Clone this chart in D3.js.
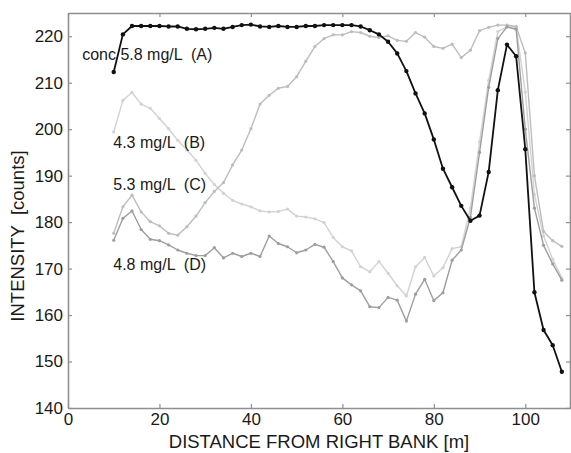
<!DOCTYPE html>
<html>
<head>
<meta charset="utf-8">
<script src="https://cdn.jsdelivr.net/npm/d3@7"></script>
<style>
  body { margin: 0; background: #fff; }
  text { font-family: "Liberation Sans", Arial, sans-serif; }
</style>
</head>
<body>
<div id="chart"></div>
<script>
// intensity across the river section, four concentrations

var distance = [10, 12, 14, 16, 18, 20, 22, 24, 26, 28, 30, 32, 34, 36, 38, 40, 42, 44, 46, 48,
  50, 52, 54, 56, 58, 60, 62, 64, 66, 68, 70, 72, 74, 76, 78, 80, 82, 84, 86, 88,
  90, 92, 94, 96, 98, 100, 102, 104, 106, 108];

var concA = [212.3, 220.4, 222.2, 222.2, 222.2, 222.2, 222.1, 222.1, 221.6, 221.5,
  221.6, 221.8, 221.6, 222.0, 222.4, 222.5, 222.1, 222.0, 222.2, 222.0,
  222.0, 222.2, 222.2, 222.4, 222.4, 222.4, 222.4, 222.1, 221.3, 220.4,
  218.8, 216.3, 212.5, 207.7, 203.4, 197.8, 191.5, 187.5, 183.5, 180.3,
  181.4, 190.8, 208.4, 218.2, 215.7, 195.7, 164.9, 156.8, 153.5, 147.8];

var concB = [199.4, 206.2, 207.9, 205.4, 204.5, 202.3, 200.1, 197.6, 195.5, 193.3,
  190.5, 188.1, 186.2, 184.7, 183.9, 183.3, 182.4, 182.2, 182.3, 182.8,
  181.3, 181.1, 180.7, 179.9, 176.7, 174.7, 173.8, 170.4, 169.3, 171.5,
  169.0, 166.3, 164.1, 170.4, 172.4, 168.4, 170.2, 174.3, 174.7, 183.0,
  197.3, 210.5, 221.0, 222.0, 222.0, 208.0, 186.0, 177.0, 172.0, 168.0];

var concC = [177.6, 183.3, 185.8, 182.2, 180.1, 179.2, 177.6, 177.2, 179.0, 181.3,
  184.2, 186.6, 188.5, 192.3, 195.5, 200.1, 205.4, 207.3, 208.8, 209.2,
  211.3, 214.6, 217.8, 219.5, 220.3, 220.3, 221.0, 220.8, 220.0, 219.7,
  220.1, 219.1, 218.9, 220.8, 219.8, 217.8, 217.4, 218.3, 215.4, 217.0,
  221.2, 221.9, 222.4, 222.4, 222.1, 216.4, 190.0, 178.0, 176.0, 174.8];

var concD = [176.1, 180.8, 182.4, 178.4, 176.3, 176.0, 175.1, 174.0, 173.3, 172.8,
  172.8, 174.5, 172.3, 173.3, 172.6, 173.3, 172.6, 177.0, 175.4, 174.7,
  173.4, 174.0, 175.2, 174.6, 171.5, 168.0, 166.5, 165.2, 161.8, 161.6,
  163.8, 163.2, 158.7, 164.5, 167.7, 163.1, 164.8, 171.8, 174.0, 181.0,
  195.0, 209.0, 219.5, 222.0, 221.5, 200.0, 183.0, 175.0, 171.0, 167.5];

var xTicks = [0, 20, 40, 60, 80, 100];
var yTicks = [140, 150, 160, 170, 180, 190, 200, 210, 220];

var labels = [
  { text: "conc 5.8 mg/L  (A)", x: 3.1, y: 214.9 },
  { text: "4.3 mg/L  (B)", x: 9.9, y: 195.9 },
  { text: "5.3 mg/L  (C)", x: 9.9, y: 186.9 },
  { text: "4.8 mg/L  (D)", x: 9.9, y: 169.7 }
];

var svgWidth = 571;
var svgHeight = 453;

var margin = { top: 13, right: 0, bottom: 45, left: 68 };

var width = svgWidth - margin.left - margin.right;
var height = svgHeight - margin.top - margin.bottom;

var svg = d3.select("#chart")
  .append("svg")
  .attr("width", svgWidth)
  .attr("height", svgHeight);

var chartGroup = svg.append("g")
  .attr("transform", `translate(${margin.left}, ${margin.top})`);

var xScale = d3.scaleLinear().domain([0, 110]).range([0, width]);
var yScale = d3.scaleLinear().domain([140, 225]).range([height, 0]);

// axes, ticks pointing inward on all four sides
var axisColor = "#8f8f8f";

function styleAxis(g) {
  g.select(".domain").attr("stroke", axisColor).attr("stroke-width", 1.6);
  g.selectAll(".tick line").attr("stroke", axisColor).attr("stroke-width", 1.2);
  g.selectAll(".tick text").attr("fill", "#1a1a1a").style("font-size", "17px");
}

chartGroup.append("g")
  .attr("transform", `translate(0, ${height})`)
  .call(d3.axisBottom(xScale).tickValues(xTicks).tickSize(-4).tickSizeOuter(0).tickPadding(5))
  .call(styleAxis);

chartGroup.append("g")
  .call(d3.axisTop(xScale).tickValues(xTicks).tickSize(-4).tickSizeOuter(0).tickFormat(""))
  .call(styleAxis);

chartGroup.append("g")
  .call(d3.axisLeft(yScale).tickValues(yTicks).tickSize(-4).tickSizeOuter(0).tickPadding(5))
  .call(styleAxis);

chartGroup.append("g")
  .attr("transform", `translate(${width - 1}, 0)`)
  .call(d3.axisRight(yScale).tickValues(yTicks).tickSize(-4).tickSizeOuter(0).tickFormat(""))
  .call(styleAxis);

// series, drawn light to dark
var series = [
  { values: concB, color: "#d2d2d2", width: 1.4, r: 1.6 },
  { values: concC, color: "#bdbdbd", width: 1.4, r: 1.6 },
  { values: concD, color: "#9e9e9e", width: 1.4, r: 1.6 },
  { values: concA, color: "#111111", width: 1.8, r: 2.2 }
];

var line = d3.line()
  .x((d, i) => xScale(distance[i]))
  .y(d => yScale(d));

series.forEach(function(s) {
  chartGroup.append("path")
    .datum(s.values)
    .attr("d", line)
    .attr("fill", "none")
    .attr("stroke", s.color)
    .attr("stroke-width", s.width)
    .attr("stroke-linejoin", "round");

  chartGroup.append("g").selectAll("circle")
    .data(s.values)
    .enter()
    .append("circle")
    .attr("cx", (d, i) => xScale(distance[i]))
    .attr("cy", d => yScale(d))
    .attr("r", s.r)
    .attr("fill", s.color);
});

// series labels
chartGroup.append("g").selectAll("text")
  .data(labels)
  .enter()
  .append("text")
  .attr("x", d => xScale(d.x))
  .attr("y", d => yScale(d.y))
  .attr("fill", "#1a1a1a")
  .style("font-size", "16px")
  .style("white-space", "pre")
  .text(d => d.text);

// axis titles
chartGroup.append("text")
  .attr("transform", `translate(${319 - margin.left}, ${448 - margin.top})`)
  .attr("text-anchor", "middle")
  .attr("fill", "#1a1a1a")
  .style("font-size", "18.5px")
  .text("DISTANCE FROM RIGHT BANK [m]");

svg.append("text")
  .attr("transform", `translate(24, 236) rotate(-90)`)
  .attr("text-anchor", "middle")
  .attr("fill", "#1a1a1a")
  .style("font-size", "18.5px")
  .style("white-space", "pre")
  .text("INTENSITY  [counts]");
</script>
</body>
</html>
